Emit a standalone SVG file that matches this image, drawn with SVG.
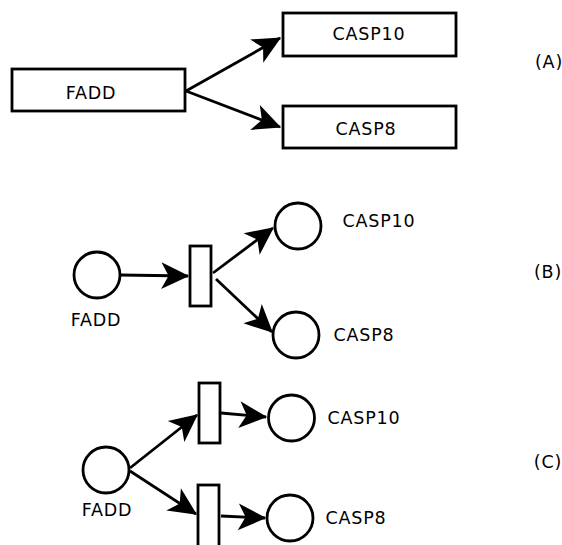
<svg xmlns="http://www.w3.org/2000/svg" width="562" height="545" viewBox="0 0 562 545">
<style>
.n{fill:#fff;stroke:#000;stroke-width:2.8}
.e{fill:none;stroke:#000;stroke-width:2.8}
text{font-family:"DejaVu Sans",sans-serif;font-size:17.5px;letter-spacing:0.8px;fill:#000;text-anchor:middle}
</style>
<defs>
<marker id="ah" markerUnits="userSpaceOnUse" markerWidth="34" markerHeight="34" viewBox="-26 -14 28 28" refX="0" refY="0" orient="auto">
<path d="M1,0 L-22,-11 L-16,0 L-22,11 Z" fill="#000"/>
</marker>
</defs>
<g id="connectors">
<line class="e" x1="186" y1="91" x2="280" y2="38" marker-end="url(#ah)"/>
<line class="e" x1="186" y1="91" x2="280" y2="127" marker-end="url(#ah)"/>
<line class="e" x1="120" y1="275" x2="188" y2="276" marker-end="url(#ah)"/>
<line class="e" x1="213" y1="273" x2="273" y2="228" marker-end="url(#ah)"/>
<line class="e" x1="216" y1="279" x2="272" y2="332" marker-end="url(#ah)"/>
<line class="e" x1="130" y1="468" x2="197" y2="415" marker-end="url(#ah)"/>
<line class="e" x1="130" y1="471" x2="196" y2="514" marker-end="url(#ah)"/>
<line class="e" x1="221" y1="413" x2="266" y2="417" marker-end="url(#ah)"/>
<line class="e" x1="221" y1="516" x2="265" y2="518" marker-end="url(#ah)"/>
</g>
<g id="A-FADD"><rect class="n" x="12" y="69" width="173" height="42"/><text x="91" y="98.5">FADD</text></g>
<g id="A-CASP10"><rect class="n" x="283" y="13" width="173" height="43"/><text x="369" y="39.5">CASP10</text></g>
<g id="A-CASP8"><rect class="n" x="283" y="106" width="173" height="42"/><text x="366" y="134.5">CASP8</text></g>
<g id="label-A"><text x="549" y="67.5">(A)</text></g>
<g id="B-FADD"><circle class="n" cx="97" cy="275" r="23"/><text x="96" y="325.5">FADD</text></g>
<g id="B-T"><rect class="n" x="190" y="246" width="21" height="60"/></g>
<g id="B-CASP10"><circle class="n" cx="298" cy="226" r="23"/><text x="379" y="226.5">CASP10</text></g>
<g id="B-CASP8"><circle class="n" cx="296" cy="335" r="23"/><text x="364" y="340.5">CASP8</text></g>
<g id="label-B"><text x="548" y="277.5">(B)</text></g>
<g id="C-FADD"><circle class="n" cx="106" cy="470" r="23"/><text x="107" y="515.5">FADD</text></g>
<g id="C-T1"><rect class="n" x="199" y="383" width="21" height="60"/></g>
<g id="C-T2"><rect class="n" x="198" y="485" width="21" height="65"/></g>
<g id="C-CASP10"><circle class="n" cx="291.5" cy="418" r="23"/><text x="364" y="423.5">CASP10</text></g>
<g id="C-CASP8"><circle class="n" cx="290" cy="518" r="23"/><text x="356" y="523.5">CASP8</text></g>
<g id="label-C"><text x="548" y="467.5">(C)</text></g>
</svg>
